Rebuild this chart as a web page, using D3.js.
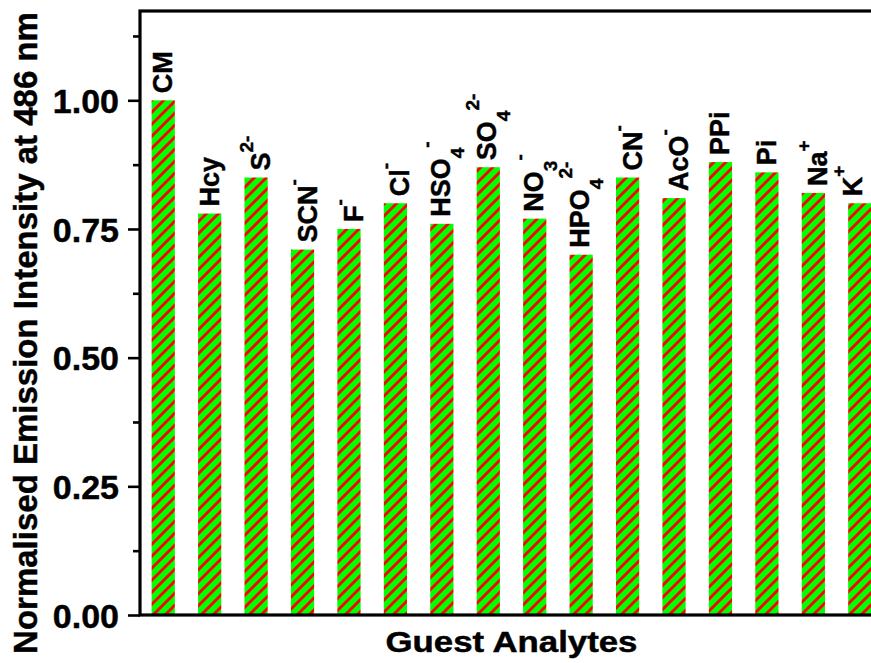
<!DOCTYPE html>
<html>
<head>
<meta charset="utf-8">
<script src="https://cdn.jsdelivr.net/npm/d3@7"></script>
<style>
  html, body { margin: 0; padding: 0; background: #fff; }
  text { font-family: "Liberation Sans", Arial, sans-serif; font-weight: bold; fill: #000; stroke: #000; stroke-width: 0.45px; }
</style>
</head>
<body>
<svg id="chart" width="871" height="663"></svg>
<script>
// Analyte labels (^{..} = superscript, _{..} = subscript)
const categories = ["CM", "Hcy", "S^{2-}", "SCN^{-}", "F^{-}", "Cl^{-}", "HSO_{4}^{-}", "SO_{4}^{2-}",
                    "NO_{3}^{-}", "HPO_{4}^{2-}", "CN^{-}", "AcO^{-}", "PPi", "Pi", "Na^{+}", "K^{+}"];
// Normalised emission intensity at 486 nm
const values = [1.00, 0.78, 0.85, 0.71, 0.75, 0.80, 0.76, 0.87, 0.77, 0.70, 0.85, 0.81, 0.88, 0.86, 0.82, 0.80];
const yTicks = [0, 0.25, 0.5, 0.75, 1.0];
const yTickLabels = ["0.00", "0.25", "0.50", "0.75", "1.00"];
const yMinorTicks = [0.125, 0.375, 0.625, 0.875, 1.125];
const xTitle = "Guest Analytes";
const yTitle = "Normalised Emission Intensity at 486 nm";

const width = 871;
const svg = d3.select("#chart");
const plot = { left: 140, right: 883, top: 11, bottom: 615 };

const x = d3.scaleBand()
  .domain(d3.range(categories.length))
  .range([plot.left, plot.right])
  .paddingInner(0.5)
  .paddingOuter(0.25);

const y = d3.scaleLinear().domain([0, 1.1735]).range([plot.bottom, plot.top]);

// green bars with red diagonal hatching
const defs = svg.append("defs");
const tile = 12;
const pat = defs.append("pattern")
  .attr("id", "hatch")
  .attr("patternUnits", "userSpaceOnUse")
  .attr("width", tile).attr("height", tile);
pat.append("rect").attr("width", tile).attr("height", tile).attr("fill", "#00ff00");
pat.append("path")
  .attr("d", `M-2,${tile + 2} L${tile + 2},-2 M-2,2 L2,-2 M${tile - 2},${tile + 2} L${tile + 2},${tile - 2}`)
  .attr("stroke", "#ff0000")
  .attr("stroke-width", 2.9);

svg.append("g").selectAll("rect")
  .data(values)
  .join("rect")
  .attr("x", (d, i) => x(i))
  .attr("y", d => y(d))
  .attr("width", x.bandwidth())
  .attr("height", d => y(0) - y(d))
  .attr("fill", "url(#hatch)");

// rotated labels above each bar
function parseLabel(s) {
  const parts = [];
  const re = /(\^|_)\{([^}]*)\}|([^\^_]+)/g;
  let m;
  while ((m = re.exec(s)) !== null) {
    if (m[3] !== undefined) parts.push({ t: m[3], k: "" });
    else parts.push({ t: m[2], k: m[1] === "^" ? "sup" : "sub" });
  }
  return parts;
}

const mainSize = 27, smallSize = 19, supShift = -17, subShift = 14, gap = 7;

const labels = svg.append("g").selectAll("g")
  .data(values)
  .join("g")
  .attr("transform", (d, i) => `translate(${x(i) + x.bandwidth() / 2},${y(d) - gap}) rotate(-90)`);

labels.each(function (d, i) {
  const inner = d3.select(this).append("g");
  const text = inner.append("text").attr("x", 0).attr("y", 0).attr("text-anchor", "start");
  let cur = 0;
  parseLabel(categories[i]).forEach(p => {
    const target = p.k === "sup" ? supShift : p.k === "sub" ? subShift : 0;
    text.append("tspan")
      .attr("dy", target - cur)
      .attr("font-size", p.k ? smallSize : mainSize)
      .text(p.t);
    cur = target;
  });
  const bb = text.node().getBBox();
  // centre the label across the bar, keeping it inside the drawing
  const cx = x(i) + x.bandwidth() / 2;
  const overflow = Math.max(0, cx + bb.height / 2 - (width - 3));
  inner.attr("transform", `translate(0,${-(bb.y + bb.height / 2) - overflow})`);
});

// y axis: major ticks with labels, minor ticks without
const yAxis = svg.append("g")
  .attr("transform", `translate(${plot.left},0)`)
  .call(d3.axisLeft(y).tickValues(yTicks)
    .tickFormat((d, i) => yTickLabels[i])
    .tickSize(12).tickSizeOuter(0).tickPadding(9));
yAxis.select(".domain").remove();
yAxis.selectAll(".tick line").attr("stroke", "#000").attr("stroke-width", 2.6);
yAxis.selectAll(".tick text").attr("font-size", 34).attr("font-family", null).attr("dy", "0.36em");

const yMinor = svg.append("g")
  .attr("transform", `translate(${plot.left},0)`)
  .call(d3.axisLeft(y).tickValues(yMinorTicks).tickFormat("").tickSize(7).tickSizeOuter(0));
yMinor.select(".domain").remove();
yMinor.selectAll(".tick line").attr("stroke", "#000").attr("stroke-width", 2.6);

// frame
const frame = svg.append("g").attr("stroke", "#000").attr("stroke-width", 3.2).attr("fill", "none");
frame.append("rect")
  .attr("x", plot.left).attr("y", plot.top)
  .attr("width", plot.right - plot.left).attr("height", plot.bottom - plot.top);

// axis titles
svg.append("text")
  .attr("transform", `translate(${(plot.left + plot.right) / 2},652) scale(1.2,1)`)
  .attr("text-anchor", "middle")
  .attr("font-size", 29)
  .text(xTitle);

svg.append("text")
  .attr("transform", "translate(37,333) rotate(-90)")
  .attr("text-anchor", "middle")
  .attr("font-size", 33)
  .text(yTitle);
</script>
</body>
</html>
